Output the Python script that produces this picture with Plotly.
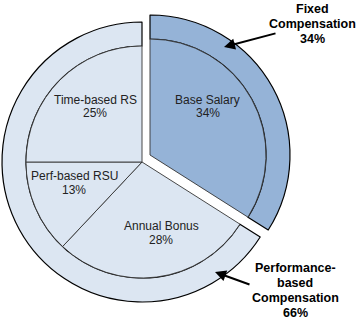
import plotly.graph_objects as go

# ---- data ----
inner_labels = ["Base Salary", "Annual Bonus", "Perf-based RSU", "Time-based RS"]
inner_values = [34, 28, 13, 25]
inner_group = ["Fixed", "Performance", "Performance", "Performance"]
outer_labels = ["Fixed", "Performance"]
outer_values = [34, 66]
outer_text_lines = [["Fixed", "Compensation"], ["Performance-", "based", "Compensation"]]

# ---- styling / layout constants (pixels) ----
W, H = 360, 324
R_OUT, R_IN = 140, 116
PERF_C = (142, 162)   # centre of performance part
FIXED_C = (150, 155)  # centre of the pulled-out fixed part
LIGHT = "#dce6f2"
DARK = "#95b3d7"
CLEAR = "rgba(0,0,0,0)"
FONT = "Liberation Sans, Arial, sans-serif"
# label centres (pixels) for the inner slices, in inner_labels order
LABEL_POS = [(208, 106.5), (161, 233), (74, 183), (95, 106.5)]
LINE_GAP = 13.5
# callout text (x centre, first line y) and arrow (head, tail offset)
CALLOUT_POS = [(312, 9), (295, 268)]
CALLOUT_GAP = 15
ARROWS = [((224, 47), (53, -14)), ((215, 272), (36, 13))]


def domain(c, r):
    cx, cy = c
    return dict(x=[(cx - r) / W, (cx + r) / W],
                y=[1 - (cy + r) / H, 1 - (cy - r) / H])


def colors_for(groups, show, fill_map):
    return [fill_map[g] if g == show else CLEAR for g in groups]


fill_map = {"Fixed": DARK, "Performance": LIGHT}

fig = go.Figure()

for show, centre in (("Performance", PERF_C), ("Fixed", FIXED_C)):
    # outer ring
    fig.add_trace(go.Pie(
        labels=outer_labels, values=outer_values, sort=False,
        direction="clockwise", rotation=0, hole=R_IN / R_OUT,
        domain=domain(centre, R_OUT),
        marker=dict(colors=colors_for(outer_labels, show, fill_map),
                    line=dict(color="#000000",
                              width=[1.2 if g == show else 0 for g in outer_labels])),
        textinfo="none", hoverinfo="skip", showlegend=False,
    ))
    # inner pie
    fig.add_trace(go.Pie(
        labels=inner_labels, values=inner_values, sort=False,
        direction="clockwise", rotation=0,
        domain=domain(centre, R_IN),
        marker=dict(colors=colors_for(inner_group, show, fill_map),
                    line=dict(color="#333333",
                              width=[0.9 if g == show else 0 for g in inner_group])),
        textinfo="none", hoverinfo="skip", showlegend=False,
    ))


def px(x, y):
    return x / W, 1 - y / H


# slice labels (name + percentage)
for lab, val, (cx, cy) in zip(inner_labels, inner_values, LABEL_POS):
    for txt, yy in ((lab, cy - LINE_GAP / 2), (f"{val}%", cy + LINE_GAP / 2)):
        x, y = px(cx, yy)
        fig.add_annotation(x=x, y=y, xref="paper", yref="paper", text=txt,
                           showarrow=False, xanchor="center", yanchor="middle",
                           font=dict(family=FONT, size=12, color="#222222"))

# callouts (one annotation per line)
for lines, val, (cx, y0) in zip(outer_text_lines, outer_values, CALLOUT_POS):
    for i, txt in enumerate(lines + [f"{val}%"]):
        x, y = px(cx, y0 + i * CALLOUT_GAP)
        fig.add_annotation(x=x, y=y, xref="paper", yref="paper",
                           text=f"<b>{txt}</b>", showarrow=False,
                           xanchor="center", yanchor="middle",
                           font=dict(family=FONT, size=12.5, color="#000000"))
for (hx, hy), (ax, ay) in ARROWS:
    x, y = px(hx, hy)
    fig.add_annotation(x=x, y=y, xref="paper", yref="paper",
                       text="", showarrow=True, ax=ax, ay=ay,
                       xanchor="center", yanchor="middle",
                       arrowhead=2, arrowsize=1.1, arrowwidth=2,
                       arrowcolor="#000000")

fig.update_layout(width=W, height=H, margin=dict(l=0, r=0, t=0, b=0),
                  paper_bgcolor="white", plot_bgcolor="white",
                  showlegend=False)

fig.write_html("out.html")
